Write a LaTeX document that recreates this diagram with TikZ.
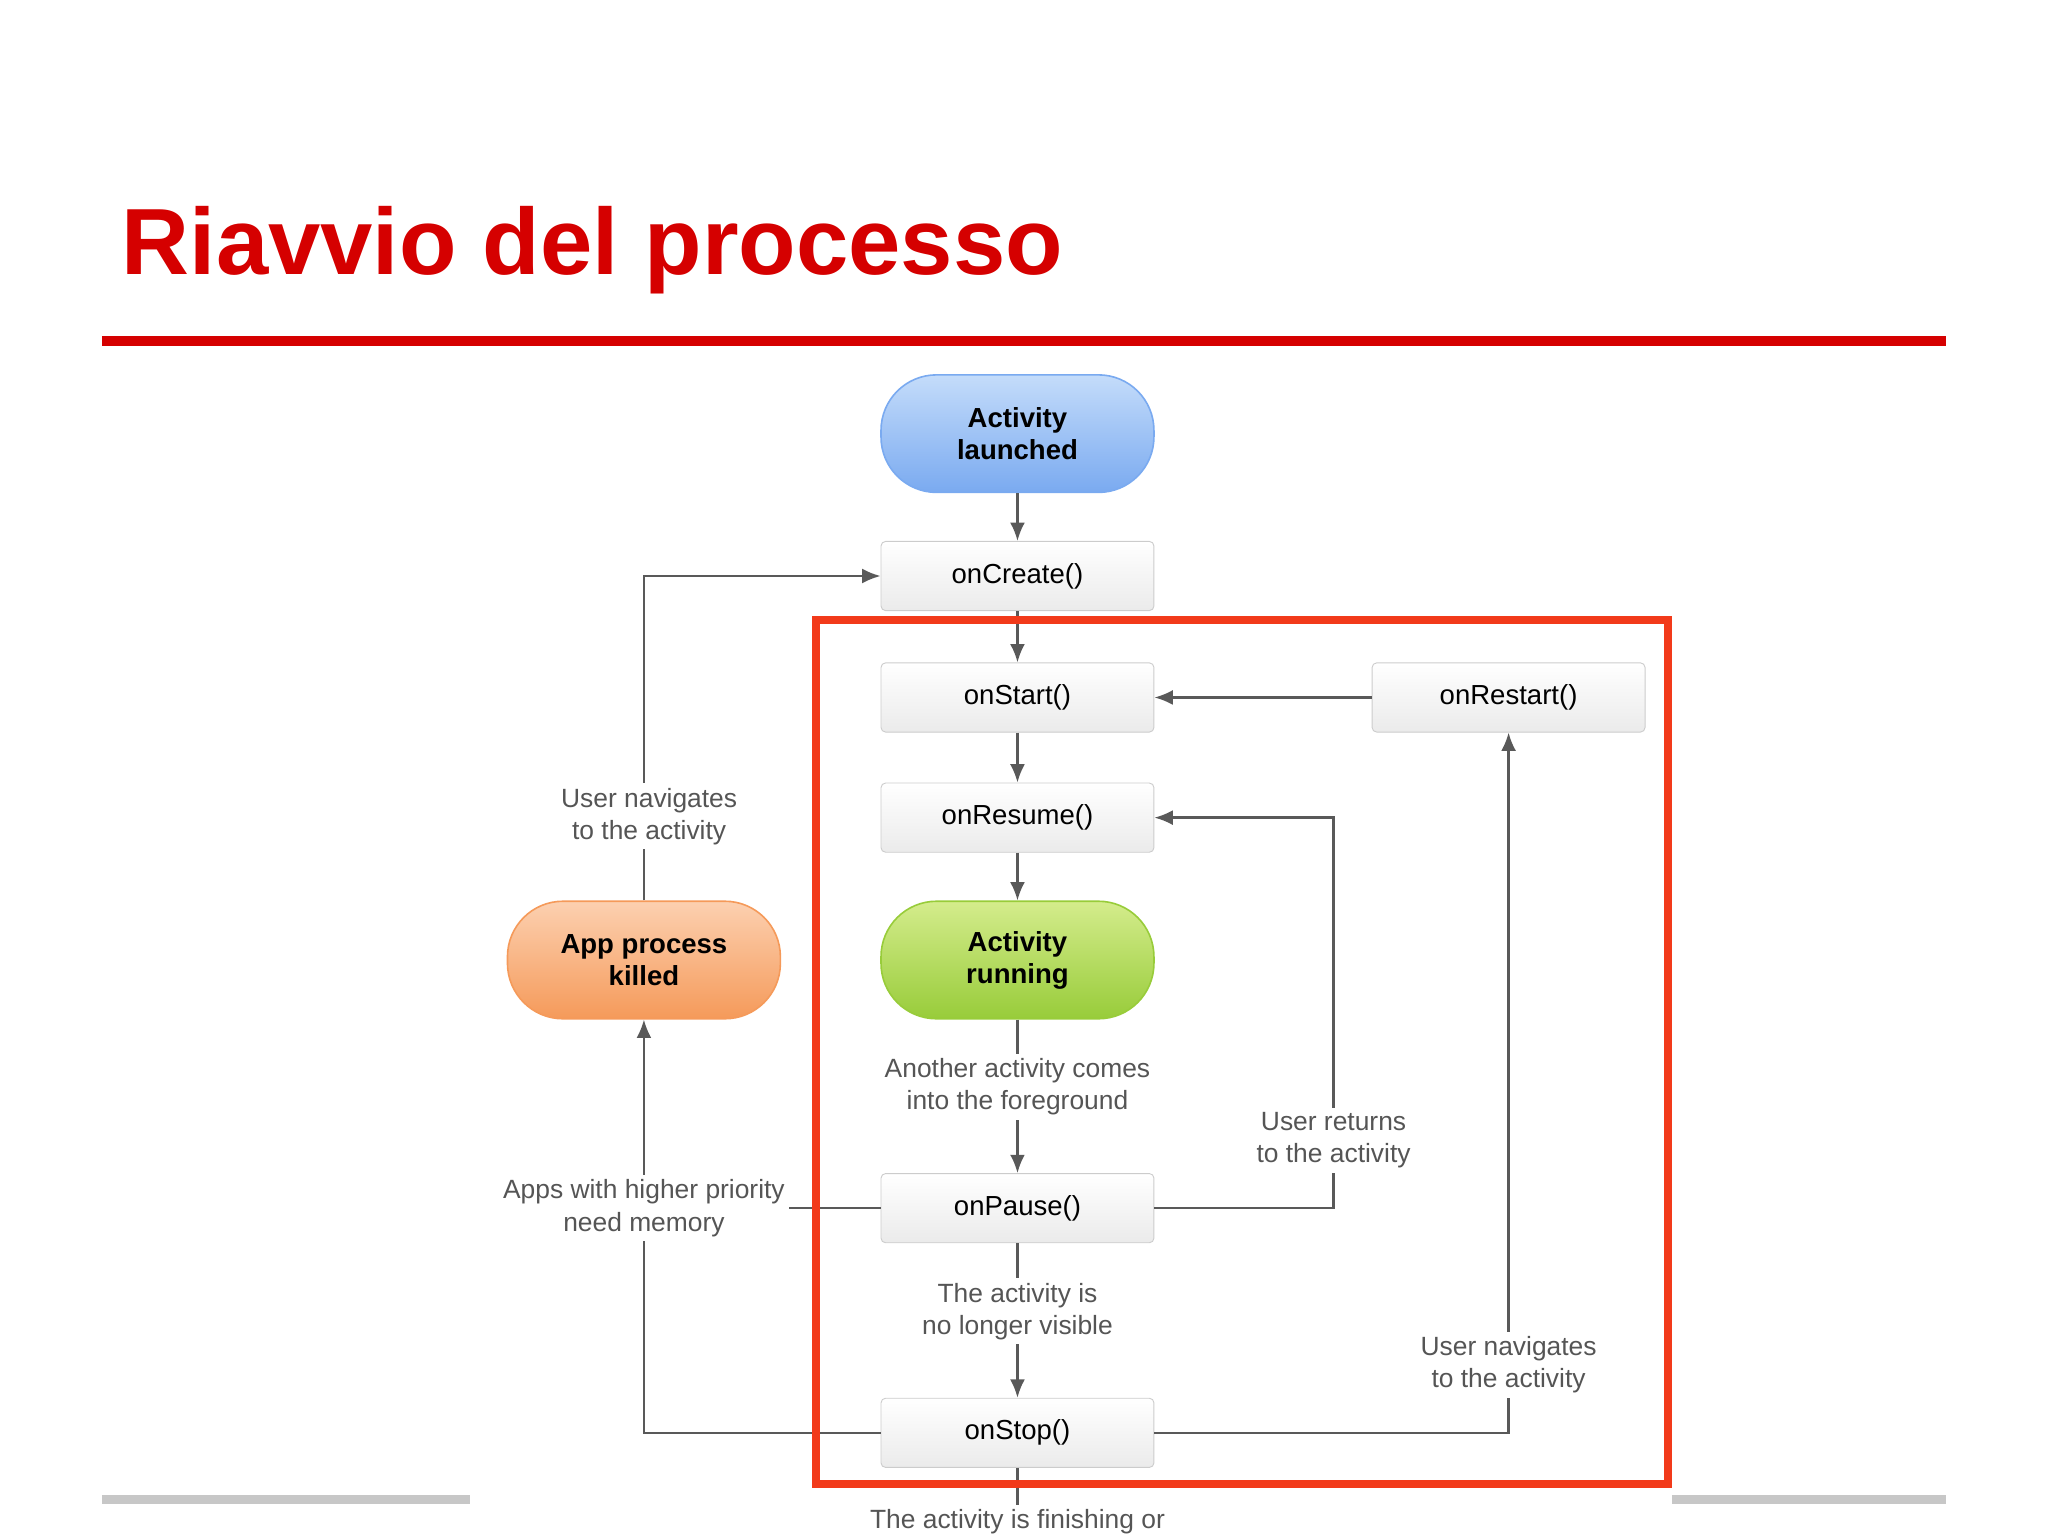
\documentclass[tikz,border=0pt]{standalone}
\usepackage{fontspec}
\setmainfont{Liberation Sans}
\usetikzlibrary{arrows.meta}
\definecolor{titlered}{HTML}{D50000}
\definecolor{boxred}{HTML}{F23A1A}
\definecolor{txt}{HTML}{555555}
\definecolor{bt}{HTML}{C4DCFA}
\definecolor{bb}{HTML}{7AAAF0}
\definecolor{gt}{HTML}{D4EC8C}
\definecolor{gb}{HTML}{98CC3A}
\definecolor{ot}{HTML}{FCD0B0}
\definecolor{ob}{HTML}{F59A5A}
\begin{document}
\begin{tikzpicture}[x=0.02cm,y=-0.02cm,
  every node/.style={font=\fontsize{12}{14}\selectfont},
  cb/.style={draw=black!20, rounded corners=2pt, top color=white, bottom color=black!8, minimum width=4.18cm, minimum height=1.06cm, inner sep=0pt},
  st/.style={rounded corners=0.85cm, minimum width=4.18cm, minimum height=1.8cm, align=center, font=\fontsize{12}{14}\selectfont\bfseries, inner sep=0pt, draw=#1, line width=0.7pt},
  lbl/.style={fill=white, text=txt, align=center, inner sep=2pt, font=\fontsize{11.5}{14}\selectfont},
  ln/.style={draw=black!65, line width=1pt},
  ar/.style={ln, -{Latex[length=8pt,width=6.5pt]}}]
\useasboundingbox (0,0) rectangle (1568,1176);
\node[anchor=base west, text=titlered, font=\fontsize{41}{46}\selectfont\bfseries, inner sep=0pt] (title) at (93,210) {Riavvio del processo};
\draw[titlered, line width=8*0.02cm] (78,261) -- (1490,261);
\draw[black!22, line width=7*0.02cm] (78,1148) -- (360,1148);
\draw[black!22, line width=7*0.02cm] (1280,1148) -- (1490,1148);

\node[st=bb, top color=bt, bottom color=bb] (launch) at (779,332) {Activity\\launched};
\node[cb] (create) at (779,441) {onCreate()};
\node[cb] (start) at (779,534) {onStart()};
\node[cb] (restart) at (1155,534) {onRestart()};
\node[cb] (resume) at (779,626) {onResume()};
\node[st=gb, top color=gt, bottom color=gb] (run) at (779,735) {Activity\\running};
\node[st=ob, top color=ot, bottom color=ob] (killed) at (493,735) {App process\\killed};
\node[cb] (pause) at (779,925) {onPause()};
\node[cb] (stop) at (779,1097) {onStop()};

\coordinate (pr) at (1021,925);
\coordinate (sr) at (1155,1097);
\coordinate (sl) at (493,1097);
\coordinate (kt) at (493,441);
\coordinate (bot) at (779,1176);

\draw[ar] (launch) -- (create);
\draw[ar] (create) -- (start);
\draw[ar] (start) -- (resume);
\draw[ar] (resume) -- (run);
\draw[ar] (run) -- (pause);
\draw[ar] (pause) -- (stop);
\draw[ln] (stop) -- (bot);
\draw[ar] (restart) -- (start);
\draw[ar] (pause.east) -- (pr) |- (resume.east);
\draw[ar] (stop.east) -- (sr) -- (restart.south);
\draw[ar] (stop.west) -- (sl) -- (killed.south);
\draw[ln] (pause.west) -- (493,925);
\draw[ar] (killed.north) -- (kt) -- (create.west);

\node[lbl] (l1) at (779,832) {Another activity comes\\into the foreground};
\node[lbl] (l2) at (779,1004) {The activity is\\no longer visible};
\node[lbl] (l3) at (1021,873) {User returns\\to the activity};
\node[lbl] (l4) at (1155,1045) {User navigates\\to the activity};
\node[lbl] (l5) at (493,925) {Apps with higher priority\\need memory};
\node[lbl] (l6) at (497,625) {User navigates\\to the activity};
\node[lbl, anchor=north] (l7) at (779,1152) {The activity is finishing or};

\draw[boxred, line width=6*0.02cm] (625,475) rectangle (1277,1136);
\end{tikzpicture}
\end{document}
